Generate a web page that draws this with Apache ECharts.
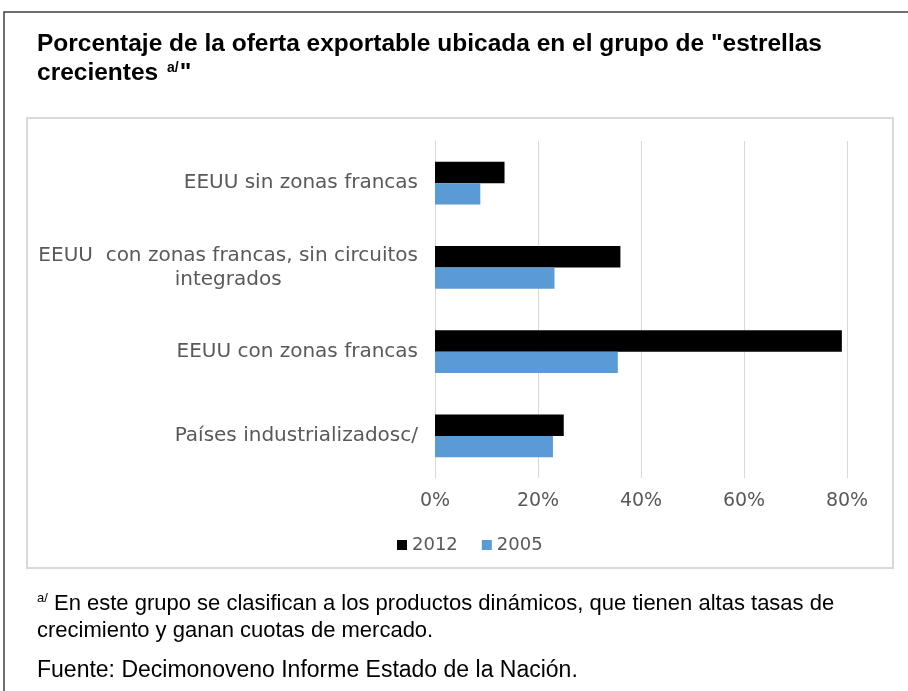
<!DOCTYPE html>
<html>
<head>
<meta charset="utf-8">
<script src="https://cdn.jsdelivr.net/npm/echarts@6/dist/echarts.min.js"></script>
<style>
  html, body { margin: 0; padding: 0; background: #fff; }
  #chart { width: 908px; height: 691px; }
</style>
</head>
<body>
<div id="chart"></div>
<script>
// categorias de arriba hacia abajo
var categories = [
  'EEUU sin zonas francas',
  'EEUU  con zonas francas, sin circuitos\nintegrados',
  'EEUU con zonas francas',
  'Países industrializadosc/'
];
var seriesNames = ['2012', '2005'];
var values2012 = [13.5, 36.0, 79.0, 25.0];
var values2005 = [8.8, 23.2, 35.5, 22.9];
var xTicks = { min: 0, max: 80, interval: 20 };

var chart = echarts.init(document.getElementById('chart'));

var option = {
  animation: false,
  backgroundColor: '#fff',
  grid: { left: 435, right: 61, top: 141, bottom: 213, containLabel: false },
  legend: {
    data: seriesNames,
    left: 392,
    top: 531,
    icon: 'rect',
    itemWidth: 10,
    itemHeight: 10,
    itemGap: 24,
    textStyle: { color: '#595959', fontSize: 18, fontFamily: 'DejaVu Sans' }
  },
  xAxis: {
    type: 'value',
    min: xTicks.min,
    max: xTicks.max,
    interval: xTicks.interval,
    axisLine: { show: false },
    axisTick: { show: false },
    splitLine: { lineStyle: { color: '#d9d9d9', width: 1 } },
    axisLabel: {
      formatter: '{value}%',
      color: '#595959',
      fontSize: 19,
      fontFamily: 'DejaVu Sans',
      margin: 14
    }
  },
  yAxis: {
    type: 'category',
    inverse: true,
    data: categories,
    axisLine: { show: true, lineStyle: { color: '#d9d9d9' } },
    axisTick: { show: false },
    axisLabel: {
      margin: 17,
      formatter: function (v) {
        return v.split('\n').map(function (l) { return '{c|' + l + '}'; }).join('\n');
      },
      rich: {
        c: { color: '#595959', fontSize: 20, fontFamily: 'DejaVu Sans', align: 'center', lineHeight: 24 }
      }
    }
  },
  series: [
    {
      name: seriesNames[0],
      type: 'bar',
      data: values2012,
      itemStyle: { color: '#000000' },
      barGap: '0%',
      barCategoryGap: '49%'
    },
    {
      name: seriesNames[1],
      type: 'bar',
      data: values2005,
      itemStyle: { color: '#5b9bd5' },
      barGap: '0%',
      barCategoryGap: '49%'
    }
  ],
  graphic: [
    {
      type: 'rect',
      shape: { x: 4, y: 12, width: 1000, height: 1000 },
      style: { fill: 'none', stroke: '#404040', lineWidth: 1.5 },
      silent: true
    },
    {
      type: 'rect',
      shape: { x: 27, y: 118, width: 866, height: 450 },
      style: { fill: 'none', stroke: '#d9d9d9', lineWidth: 2 },
      silent: true
    },
    {
      type: 'text',
      left: 37,
      top: 30,
      style: {
        text: 'Porcentaje de la oferta exportable ubicada en el grupo de "estrellas\n{t|crecientes }{s|a/}{t|"}',
        font: 'bold 24.5px "Liberation Sans"',
        fill: '#000',
        lineHeight: 29,
        rich: {
          t: { font: 'bold 24.5px "Liberation Sans"', fill: '#000', lineHeight: 29 },
          s: { font: 'bold 14px "Liberation Sans"', fill: '#000', padding: [0, 1, 10, 2] }
        }
      }
    },
    {
      type: 'text',
      left: 37,
      top: 590,
      style: {
        text: '{s|a/}{t| En este grupo se clasifican a los productos dinámicos, que tienen altas tasas de}\n{t|crecimiento y ganan cuotas de mercado.}',
        font: '22px "Liberation Sans"',
        fill: '#000',
        lineHeight: 27,
        rich: {
          t: { font: '22px "Liberation Sans"', fill: '#000', lineHeight: 27 },
          s: { font: '13px "Liberation Sans"', fill: '#000', padding: [0, 0, 10, 0] }
        }
      }
    },
    {
      type: 'text',
      left: 37,
      top: 659,
      style: {
        text: 'Fuente: Decimonoveno Informe Estado de la Nación.',
        font: '23px "Liberation Sans"',
        fill: '#000'
      }
    }
  ]
};

chart.setOption(option);
</script>
</body>
</html>
